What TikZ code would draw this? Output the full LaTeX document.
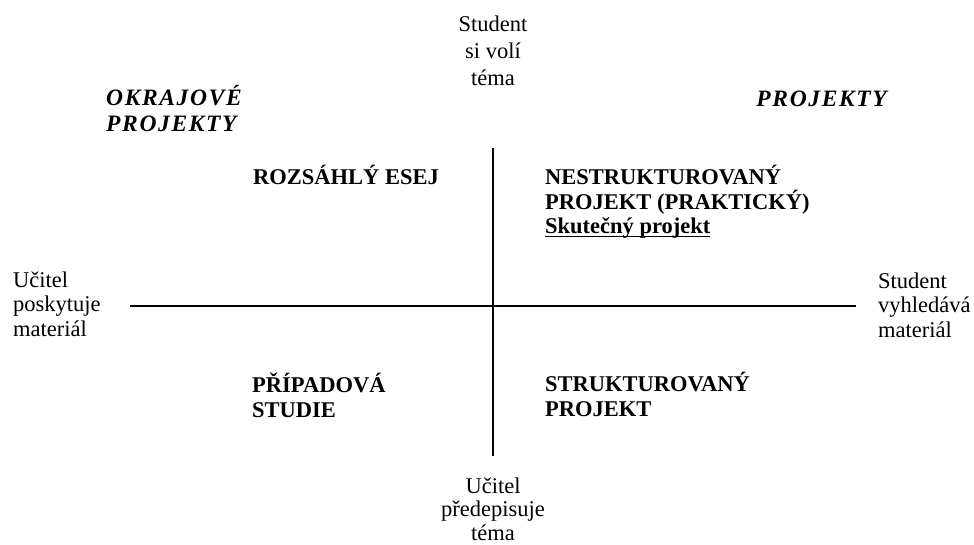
\documentclass[tikz,border=0pt]{standalone}
\usepackage{fontspec}
\setmainfont{Liberation Serif}
\tikzset{
  axis/.style={line width=2pt, black},
  lbl/.style={inner sep=0pt, font=\fontsize{22.5}{24.5}\selectfont},
  quad/.style={inner sep=0pt, align=left, font=\fontsize{22.5}{24.5}\selectfont\bfseries},
  corner/.style={inner sep=0pt, align=left, font=\fontsize{23.5}{26}\selectfont\bfseries\itshape\addfontfeature{LetterSpace=7}},
}
\newcommand{\ulbold}[1]{\setbox0\hbox{#1}\rlap{\rule[-3.5pt]{\wd0}{1.6pt}}\box0}
\begin{document}
\begin{tikzpicture}[x=1pt,y=-1pt]
\useasboundingbox (0,0) rectangle (974,545);
% axes
\coordinate (vt) at (493,148);
\coordinate (vb) at (493,456);
\coordinate (hl) at (130,306);
\coordinate (hr) at (856,306);
\draw[axis] (vt) -- (vb);
\draw[axis] (hl) -- (hr);
% axis labels (anchor = baseline of last line)
\node[lbl, align=center, anchor=base, font=\fontsize{22.5}{27}\selectfont] (top) at (493,86) {Student\\si volí\\téma};
\node[lbl, align=center, anchor=base, font=\fontsize{22.5}{23.5}\selectfont] (bottom) at (493,540) {Učitel\\předepisuje\\téma};
\node[lbl, align=left, anchor=base west] (left) at (13,336) {Učitel\\poskytuje\\materiál};
\node[lbl, align=left, anchor=base west] (right) at (878,337) {Student\\vyhledává\\materiál};
% corner titles
\node[corner, anchor=base west] (okraj) at (106,132) {OKRAJOVÉ\\PROJEKTY};
\node[corner, anchor=base east] (proj) at (887,107) {PROJEKTY};
% quadrants
\node[quad, anchor=base west] (esej) at (253,185) {ROZSÁHLÝ ESEJ};
\node[quad, anchor=base west] (nestr) at (545,234) {NESTRUKTUROVANÝ\\PROJEKT (PRAKTICKÝ)\\\ulbold{Skutečný projekt}};
\node[quad, anchor=base west] (pripad) at (252,417) {PŘÍPADOVÁ\\STUDIE};
\node[quad, anchor=base west] (strukt) at (545,416) {STRUKTUROVANÝ\\PROJEKT};
\end{tikzpicture}
\end{document}
